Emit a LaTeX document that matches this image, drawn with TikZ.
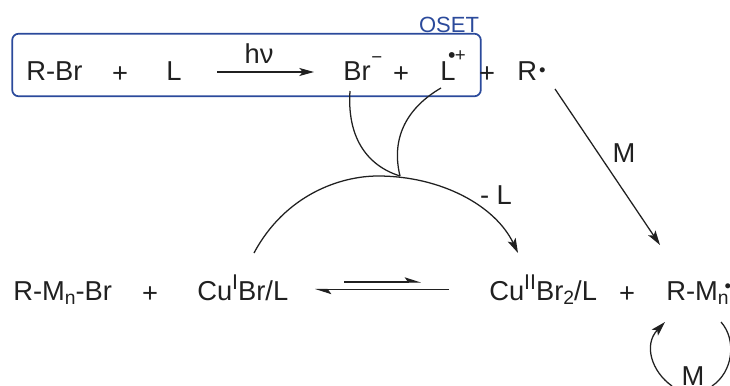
\documentclass[tikz,border=0pt]{standalone}
\usepackage{fontspec}
\usepackage{xcolor}
\usetikzlibrary{arrows.meta, positioning}
\setmainfont{Liberation Sans}
\definecolor{myblue}{RGB}{43, 74, 155}
\definecolor{myink}{RGB}{32, 32, 32}
\newcommand{\raised}[3]{\raisebox{#1}{\fontsize{#2}{#2}\selectfont #3}}
\newcommand{\supr}[1]{\raised{8.2pt}{16}{#1}}
\newcommand{\subr}[1]{\raised{-3pt}{14.5}{#1}}

\begin{document}
\begin{tikzpicture}[x=0.75pt,y=-0.75pt,
          chem/.style={anchor=base west,inner sep=0pt,text=myink,font=\fontsize{20.5}{22}\selectfont},
          lab/.style={anchor=base,inner sep=0pt,text=myink,font=\fontsize{20.5}{22}\selectfont},
          plus/.style={lab,yshift=-1.5pt},
          link/.style={myink,line width=0.95pt},
          tip/.style={link,-{Stealth[length=11pt,width=6.5pt,inset=2.5pt]}},
          half/.style={link,line width=0.8pt,-{Stealth[harpoon,length=11pt,width=7pt,inset=2.5pt]}}]
        \useasboundingbox (0,0) rectangle (730,385);
        \clip (0,0) rectangle (730,385);
        % top row
        \node[draw=myblue,line width=1.3pt,rounded corners=5pt,minimum width=351.5pt,
              minimum height=47pt,inner sep=0pt](setbox) at (246.5,65) {};
        \node[anchor=base,inner sep=0pt,text=myblue,font=\fontsize{16.5}{18}\selectfont](oset) at (449,33) {OSET};
        \node[chem](rbr)   at (26,80) {R-Br};
        \node[plus](plusa) at (120,80) {+};
        \node[chem](la)    at (166,80) {L};
        \node[lab](hnu)    at (259,64) {hν};
        \node[chem](brm)   at (343,80) {Br\hspace{0.5pt}\raised{12.5pt}{14}{−}};
        \node[plus](plusb) at (401,80) {+};
        \node[chem](lrad)  at (440,80) {L\hspace{-5.5pt}\raised{12.8pt}{16}{•}\hspace{-0.5pt}\raised{13.9pt}{14}{+}};
        \node[plus](plusc) at (487,80) {+};
        \node[chem](rrad)  at (517,80) {R\hspace{1.5pt}\raised{3pt}{14}{•}};
        \node[lab](madd)   at (624,162) {M};
        \node[lab](lloss)  at (496,204) {- L};
        % bottom row
        \node[chem](rmbr)  at (13,300) {R-M\subr{n}-Br};
        \node[plus](plusd) at (150,300) {+};
        \node[chem](cuone) at (197,300) {Cu\supr{I}Br/L};
        \node[chem](cutwo) at (489,300) {Cu\supr{II}Br\subr{2}/L};
        \node[plus](pluse) at (627,300) {+};
        \node[chem](rmrad) at (666,300) {R-M\subr{n}\hspace{-3pt}\raised{6pt}{14}{•}};
        \node[lab](mloop)  at (693,385) {M};
        % free ends
        \coordinate (hva) at (217,72);
        \coordinate (hvb) at (314,72);
        \coordinate (bra) at (350,91);
        \coordinate (lra) at (441,88);
        \coordinate (join) at (400,176);
        \coordinate (arca) at (254,253);
        \coordinate (arcb) at (518,253);
        \coordinate (mgoa) at (555,89);
        \coordinate (mgob) at (660,245);
        \coordinate (eqa) at (344,282);
        \coordinate (eqb) at (421,282);
        \coordinate (eqc) at (449,289.5);
        \coordinate (eqd) at (315,289.5);
        \coordinate (loopa) at (672,386);
        \coordinate (loopb) at (665,322);
        \coordinate (loopc) at (721,322);
        \coordinate (loopd) at (712,386);
        % connectors
        \draw[tip,-{Stealth[length=11pt,width=6pt,inset=2.5pt]}](hva)--(hvb);
        \draw[link](bra) .. controls (347,135) and (365,165) .. (join);
        \draw[link](lra) .. controls (410,106) and (390,135) .. (join);
        \draw[tip](arca) .. controls (285,195) and (340,176) .. (378,176)
          .. controls (440,176) and (495,205) .. (arcb);
        \draw[tip](mgoa)--(mgob);
        \draw[half](eqa)--(eqb);
        \draw[half](eqc)--(eqd);
        \draw[tip](loopa) .. controls (652,372) and (643,345) .. (loopb);
        \draw[link](loopc) .. controls (737,340) and (733,372) .. (loopd);
      \end{tikzpicture}
\end{document}
